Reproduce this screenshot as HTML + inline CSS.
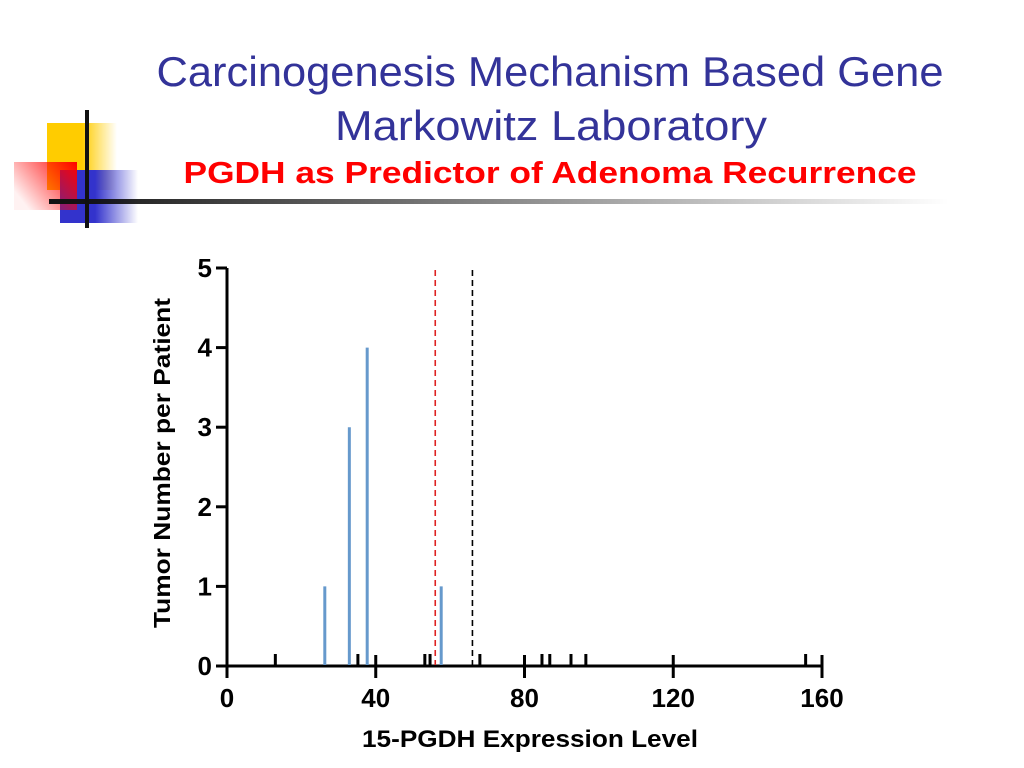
<!DOCTYPE html>
<html><head><meta charset="utf-8"><style>html,body{margin:0;padding:0;background:#fff;}svg{display:block;}</style></head>
<body>
<svg width="1024" height="768" viewBox="0 0 1024 768" xmlns="http://www.w3.org/2000/svg">
<defs>
<linearGradient id="gy" x1="0" x2="1"><stop offset="0.5" stop-color="#ffcc00"/><stop offset="1" stop-color="#ffcc00" stop-opacity="0"/></linearGradient>
<linearGradient id="gb" x1="0" x2="1"><stop offset="0.45" stop-color="#3333cc"/><stop offset="1" stop-color="#3333cc" stop-opacity="0"/></linearGradient>
<linearGradient id="gr" x1="1" y1="0" x2="0" y2="0.6"><stop offset="0" stop-color="#ff0000"/><stop offset="1" stop-color="#ff0000" stop-opacity="0.05"/></linearGradient>
<linearGradient id="gl" x1="0" x2="1"><stop offset="0" stop-color="#111"/><stop offset="1" stop-color="#111" stop-opacity="0"/></linearGradient>
</defs>
<g>
<rect x="47" y="123" width="70" height="67" fill="url(#gy)"/>
<rect x="60" y="170" width="78" height="53" fill="url(#gb)"/>
<rect x="14" y="162" width="63" height="48" fill="url(#gr)"/>
<rect x="49" y="199" width="900" height="5" fill="url(#gl)"/>
<rect x="85" y="110" width="4" height="118" fill="#111"/>
</g>
<text x="550" y="86" text-anchor="middle" font-family="Liberation Sans, sans-serif" font-size="42" fill="#333399" textLength="787" lengthAdjust="spacingAndGlyphs">Carcinogenesis Mechanism Based Gene</text>
<text x="551" y="140" text-anchor="middle" font-family="Liberation Sans, sans-serif" font-size="42" fill="#333399" textLength="432" lengthAdjust="spacingAndGlyphs">Markowitz Laboratory</text>
<text x="550" y="183" text-anchor="middle" font-family="Liberation Sans, sans-serif" font-weight="bold" font-size="31" fill="#ff0000" textLength="733" lengthAdjust="spacingAndGlyphs">PGDH as Predictor of Adenoma Recurrence</text>
<g id="chart"></g>
</svg>
<script>
const barX = [26.3, 32.9, 37.7, 57.6];
const barY = [1, 3, 4, 1];
const zeroX = [13, 35.2, 53.2, 54.6, 68, 84.7, 86.8, 92.5, 96.5, 155.6];
const xTicks = [0, 40, 80, 120, 160];
const yTicks = [0, 1, 2, 3, 4, 5];
const redCut = [56];
const blackCut = [66];
const NS='http://www.w3.org/2000/svg';
const g=document.getElementById('chart');
const X=v=>227+(v/160)*595;
const Y=v=>666-(v/5)*398;
function mk(t,a){const e=document.createElementNS(NS,t);for(const k in a)e.setAttribute(k,a[k]);g.appendChild(e);return e;}
let e;
e=mk('line',{x1:227,y1:Y(5),x2:227,y2:667,stroke:'#000','stroke-width':3});


e=mk('line',{x1:226,y1:666,x2:823,y2:666,stroke:'#000','stroke-width':3});


yTicks.forEach(v=>{
 e=mk('line',{x1:216,y1:Y(v),x2:227,y2:Y(v),stroke:'#000','stroke-width':3});
 
 
 e=mk('text',{x:212,y:Y(v)+9,'text-anchor':'end','font-family':'Liberation Sans, sans-serif','font-weight':'bold','font-size':26,fill:'#000'});
 e.textContent=v;
 
 
});
xTicks.forEach(v=>{
 e=mk('line',{x1:X(v),y1:655,x2:X(v),y2:678,stroke:'#000','stroke-width':3});
 
 
 e=mk('text',{x:X(v),y:707,'text-anchor':'middle','font-family':'Liberation Sans, sans-serif','font-weight':'bold','font-size':26,fill:'#000'});
 e.textContent=v;
 
 
});
zeroX.forEach(v=>{
 e=mk('line',{x1:X(v),y1:654,x2:X(v),y2:666,stroke:'#000','stroke-width':3});
 
 
});
barX.forEach((v,i)=>{
 e=mk('line',{x1:X(v),y1:Y(barY[i]),x2:X(v),y2:665,stroke:'#6699cc','stroke-width':3});
 
 
});
redCut.forEach(v=>{
 e=mk('line',{x1:X(v),y1:270,x2:X(v),y2:665,stroke:'#dd2222','stroke-width':1.6,'stroke-dasharray':'6,4'});
 
 
});
blackCut.forEach(v=>{
 e=mk('line',{x1:X(v),y1:270,x2:X(v),y2:665,stroke:'#000','stroke-width':1.6,'stroke-dasharray':'6,4'});
 
 
});
e=mk('text',{x:530,y:747,'text-anchor':'middle','font-family':'Liberation Sans, sans-serif','font-weight':'bold','font-size':24,fill:'#000',textLength:336,lengthAdjust:'spacingAndGlyphs'});
e.textContent='15-PGDH Expression Level';


e=mk('text',{x:0,y:0,'text-anchor':'middle','font-family':'Liberation Sans, sans-serif','font-weight':'bold','font-size':23,fill:'#000',transform:'translate(170,463) rotate(-90)',textLength:330,lengthAdjust:'spacingAndGlyphs'});
e.textContent='Tumor Number per Patient';


</script>
</body></html>
